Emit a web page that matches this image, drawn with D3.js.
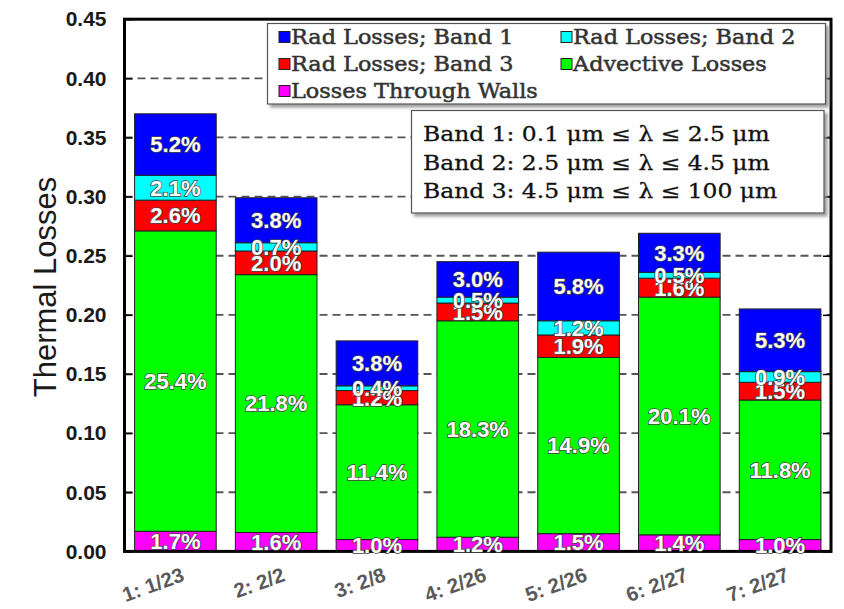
<!DOCTYPE html>
<html><head><meta charset="utf-8">
<script src="https://cdn.jsdelivr.net/npm/d3@7/dist/d3.min.js"></script>
<style>
body{margin:0;background:#fff;}
svg{display:block;}
</style></head>
<body>
<svg id="chart" width="844" height="609"></svg>
<script>
const categories = ["1: 1/23","2: 2/2","3: 2/8","4: 2/26","5: 2/26","6: 2/27","7: 2/27"];
const walls     = [1.7, 1.6, 1.0, 1.2, 1.5, 1.4, 1.0];
const advective = [25.4, 21.8, 11.4, 18.3, 14.9, 20.1, 11.8];
const band3     = [2.6, 2.0, 1.2, 1.5, 1.9, 1.6, 1.5];
const band2     = [2.1, 0.7, 0.4, 0.5, 1.2, 0.5, 0.9];
const band1     = [5.2, 3.8, 3.8, 3.0, 5.8, 3.3, 5.3];
const seriesNames = ["Losses Through Walls","Advective Losses","Rad Losses; Band 3","Rad Losses; Band 2","Rad Losses; Band 1"];
const seriesValues = [walls, advective, band3, band2, band1];
const colors = ["#ff00ff","#00ff00","#ff0000","#00ffff","#0000ff"];
const yTicks = [0,0.05,0.10,0.15,0.20,0.25,0.30,0.35,0.40,0.45];
const bandNotes = ["Band 1: 0.1 \u03bcm \u2264 \u03bb \u2264 2.5 \u03bcm","Band 2: 2.5 \u03bcm \u2264 \u03bb \u2264 4.5 \u03bcm","Band 3: 4.5 \u03bcm \u2264 \u03bb \u2264 100 \u03bcm"];

const svg = d3.select("#chart");
const W = 844, H = 609;
const m = {left:124.5, top:19.2, right:13, bottom:57.6};
const iw = W - m.left - m.right, ih = H - m.top - m.bottom;

const defs = svg.append("defs");
const f = defs.append("filter").attr("id","shadow").attr("x","-5%").attr("y","-5%").attr("width","115%").attr("height","125%");
f.append("feDropShadow").attr("dx",3).attr("dy",3).attr("stdDeviation",1.5).attr("flood-color","#888").attr("flood-opacity",0.8);

const g = svg.append("g").attr("transform",`translate(${m.left},${m.top})`);

const x = d3.scaleBand().domain(categories).range([0,iw]).paddingInner(0.19).paddingOuter(0.1);
const y = d3.scaleLinear().domain([0,0.45]).range([ih,0]);

// grid
g.append("g").selectAll("line").data(yTicks.filter(t=>t>0 && t<0.45)).join("line")
  .attr("x1",0).attr("x2",iw).attr("y1",d=>y(d)).attr("y2",d=>y(d))
  .attr("stroke","#555").attr("stroke-width",1.8).attr("stroke-dasharray","8,5");

// stacked data
const rows = categories.map((c,i)=>{const o={cat:c}; seriesNames.forEach((s,k)=>o[s]=seriesValues[k][i]/100); return o;});
const stack = d3.stack().keys(seriesNames)(rows);

const layers = g.append("g").selectAll("g").data(stack).join("g").attr("fill",(d,i)=>colors[i]);
layers.selectAll("rect").data(d=>d).join("rect")
  .attr("x",d=>x(d.data.cat)).attr("width",x.bandwidth())
  .attr("y",d=>y(d[1])).attr("height",d=>y(d[0])-y(d[1]))
  .attr("stroke","#222").attr("stroke-width",1);

// axes
const yAxisL = d3.axisLeft(y).tickValues(yTicks).tickSize(-8).tickFormat(d3.format(".2f")).tickPadding(18);
const ya = g.append("g").call(yAxisL);
ya.select(".domain").remove();
ya.selectAll(".tick line").attr("stroke","#000").attr("stroke-width",1.5);
ya.selectAll(".tick text").attr("font-family","Liberation Sans, Arial, sans-serif").attr("font-weight","bold").attr("font-size",21).attr("fill","#1a1a1a");
const yAxisR = d3.axisRight(y).tickValues(yTicks).tickSize(-8).tickFormat("");
const yr = g.append("g").attr("transform",`translate(${iw},0)`).call(yAxisR);
yr.select(".domain").remove();
yr.selectAll(".tick line").attr("stroke","#000").attr("stroke-width",1.5);

const xAxis = d3.axisBottom(x).tickSize(0).tickFormat("");
const xa = g.append("g").attr("transform",`translate(0,${ih})`).call(xAxis);
xa.select(".domain").remove();
xa.selectAll(".tick").append("text")
  .attr("transform","translate(10,29) rotate(-20)")
  .attr("text-anchor","end")
  .attr("font-family","Liberation Sans, Arial, sans-serif").attr("font-weight","bold").attr("font-size",20.5)
  .attr("fill","#595959")
  .text(d=>d);

// frame
g.append("rect").attr("x",0).attr("y",0).attr("width",iw).attr("height",ih)
  .attr("fill","none").attr("stroke","#000").attr("stroke-width",3);

// labels
const labelG = g.append("g");
stack.forEach((layer)=>{
  labelG.selectAll(null).data(layer).join("text")
    .attr("x",d=>x(d.data.cat)+x.bandwidth()/2)
    .attr("y",d=>y((d[0]+d[1])/2))
    .attr("dy","0.36em")
    .attr("text-anchor","middle")
    .attr("font-family","Liberation Sans, Arial, sans-serif").attr("font-weight","bold").attr("font-size",22)
    .attr("fill","#fff").attr("stroke","#444").attr("stroke-width",1.5).attr("paint-order","stroke")
    .text(d=>((d[1]-d[0])*100).toFixed(1)+"%");
});

// y title
svg.append("text").attr("transform","translate(56,287) rotate(-90)")
  .attr("text-anchor","middle").attr("font-family","Liberation Sans, Arial, sans-serif")
  .attr("font-size",31).attr("fill","#1a1a1a").text("Thermal Losses");

function stretch(sel, factor){
  sel.each(function(){
    const len = this.getComputedTextLength();
    d3.select(this).attr("textLength", len*factor).attr("lengthAdjust","spacingAndGlyphs");
  });
}

// legend
const legOrder = [4,3,2,1,0];
const leg = svg.append("g");
leg.append("rect").attr("x",267.5).attr("y",23.5).attr("width",558).attr("height",80.5)
  .attr("fill","#fff").attr("stroke","#555").attr("stroke-width",1.2).attr("filter","url(#shadow)");
legOrder.forEach((k,i)=>{
  const col = i%2, row = Math.floor(i/2);
  const lx = col===0 ? 279 : 561, ly = 37 + row*27;
  leg.append("rect").attr("x",lx).attr("y",ly-5.5).attr("width",11).attr("height",11)
    .attr("fill",colors[k]).attr("stroke","#222").attr("stroke-width",1);
  const t = leg.append("text").attr("x",lx+12).attr("y",ly).attr("dy","0.36em")
    .attr("font-family","DejaVu Serif, serif").attr("font-size",20.5).attr("fill","#333")
    .attr("stroke","#333").attr("stroke-width",0.5)
    .text(seriesNames[k]);
  stretch(t, 1.09);
});

// band notes
const nb = svg.append("g");
nb.append("rect").attr("x",411.5).attr("y",110.5).attr("width",412.5).attr("height",102.5)
  .attr("fill","#fff").attr("stroke","#555").attr("stroke-width",1.2).attr("filter","url(#shadow)");
bandNotes.forEach((t,i)=>{
  const tx = nb.append("text").attr("x",423).attr("y",141 + i*28.7)
    .attr("font-family","DejaVu Serif, serif").attr("font-size",19.5).attr("fill","#111")
    .attr("stroke","#111").attr("stroke-width",0.3).text(t);
  stretch(tx, 1.2);
});
</script>
</body></html>
